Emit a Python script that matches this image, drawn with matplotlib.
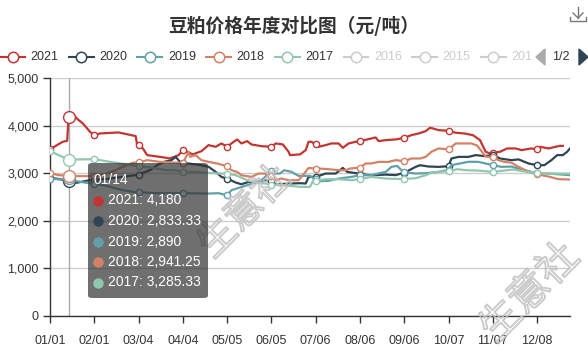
import matplotlib
matplotlib.use("Agg")
import matplotlib.pyplot as plt
from matplotlib.lines import Line2D
from matplotlib.patches import FancyBboxPatch, Polygon
import matplotlib.patheffects as pe
from matplotlib import font_manager
import pandas as pd

# ---------------- data ----------------
categories = list(pd.date_range("2021-01-01", "2021-12-31").strftime("%m/%d"))
label_step = 31
hover_date = "01/14"
title = "豆粕价格年度对比图（元/吨）"
series_names = ["2021", "2020", "2019", "2018", "2017"]
inactive_names = ["2016", "2015", "201"]
y_ticks = [0, 1000, 2000, 3000, 4000, 5000]

s2021 = [("01/01", 3500), ("01/07", 3610), ("01/10", 3660), ("01/13", 3680), ("01/14", 4180),
         ("01/17", 4235), ("01/21", 4116), ("01/24", 4046), ("01/27", 3940), ("01/29", 3870),
         ("02/01", 3800), ("02/05", 3835), ("02/18", 3856), ("03/02", 3780), ("03/03", 3590),
         ("03/04", 3590), ("03/07", 3520), ("03/10", 3380), ("03/19", 3343), ("03/26", 3310),
         ("04/01", 3380), ("04/04", 3485), ("04/07", 3450), ("04/11", 3395), ("04/17", 3463),
         ("04/22", 3590), ("04/27", 3555), ("05/01", 3625), ("05/05", 3555), ("05/08", 3625),
         ("05/12", 3709), ("05/15", 3625), ("05/19", 3674), ("05/22", 3604), ("05/29", 3568),
         ("06/05", 3555), ("06/08", 3625), ("06/13", 3604), ("06/17", 3450), ("06/18", 3380),
         ("06/25", 3395), ("06/29", 3485), ("07/01", 3660), ("07/03", 3660), ("07/06", 3604),
         ("07/08", 3555), ("07/13", 3590), ("07/17", 3625), ("07/22", 3625), ("07/25", 3533),
         ("07/29", 3625), ("08/03", 3660), ("08/06", 3674), ("08/11", 3709), ("08/17", 3751),
         ("08/19", 3674), ("08/24", 3695), ("08/31", 3709), ("09/06", 3744), ("09/11", 3800),
         ("09/16", 3835), ("09/21", 3884), ("09/24", 3954), ("09/26", 3940), ("09/30", 3905),
         ("10/07", 3890), ("10/12", 3850), ("10/18", 3835), ("10/24", 3800), ("10/29", 3695),
         ("11/02", 3450), ("11/05", 3415), ("11/07", 3430), ("11/12", 3450), ("11/17", 3520),
         ("11/23", 3520), ("11/27", 3485), ("12/04", 3520), ("12/08", 3500), ("12/10", 3555),
         ("12/16", 3520), ("12/21", 3555), ("12/24", 3575), ("12/26", 3575)]

s2020 = [("01/01", 2902), ("01/07", 2880), ("01/14", 2833.33), ("01/20", 2800), ("01/28", 2850),
         ("02/01", 2860), ("02/10", 2880), ("02/20", 2920), ("03/02", 2960), ("03/04", 2972),
         ("03/12", 3063), ("03/17", 3168), ("03/22", 3240), ("03/27", 3274), ("03/30", 3343),
         ("04/02", 3238), ("04/04", 3204), ("04/08", 3204), ("04/13", 3183), ("04/17", 3168),
         ("04/22", 3133), ("04/27", 3028), ("05/01", 2922), ("05/05", 2888), ("05/11", 2804),
         ("05/15", 2768), ("05/20", 2817), ("05/27", 2817), ("05/31", 2853), ("06/05", 2832),
         ("06/08", 2762), ("06/17", 2783), ("06/25", 2790), ("06/29", 2783), ("07/01", 2922),
         ("07/06", 2922), ("07/13", 2993), ("07/20", 2993), ("07/25", 3112), ("07/28", 3028),
         ("08/05", 2993), ("08/06", 2980), ("08/14", 2958), ("08/24", 2970), ("08/31", 2960),
         ("09/06", 3010), ("09/14", 3133), ("09/17", 3168), ("09/23", 3140), ("09/30", 3133),
         ("10/07", 3147), ("10/09", 3309), ("10/14", 3343), ("10/21", 3343), ("10/26", 3380),
         ("11/01", 3360), ("11/07", 3380), ("11/12", 3309), ("11/20", 3274), ("11/25", 3290),
         ("12/02", 3204), ("12/08", 3168), ("12/13", 3168), ("12/18", 3274), ("12/22", 3380),
         ("12/26", 3380), ("12/29", 3450), ("12/31", 3520)]

s2019 = [("01/01", 2888), ("01/07", 2870), ("01/14", 2890), ("01/20", 2830), ("01/28", 2790),
         ("02/01", 2780), ("02/10", 2730), ("02/20", 2650), ("03/02", 2600), ("03/04", 2600),
         ("03/17", 2580), ("04/04", 2580), ("04/22", 2572), ("04/29", 2580), ("05/05", 2537),
         ("05/08", 2642), ("05/13", 2691), ("05/19", 2747), ("05/25", 2804), ("05/29", 2853),
         ("06/02", 2958), ("06/05", 3042), ("06/08", 2993), ("06/11", 2993), ("06/14", 3063),
         ("06/19", 3028), ("06/24", 2944), ("07/02", 2944), ("07/04", 2902), ("07/06", 2870),
         ("07/08", 2832), ("07/15", 2840), ("07/22", 2888), ("07/31", 2922), ("08/06", 2958),
         ("08/14", 2960), ("08/24", 3028), ("08/28", 3133), ("09/01", 3154), ("09/04", 3063),
         ("09/06", 3020), ("09/14", 2993), ("09/21", 3000), ("09/30", 3028), ("10/07", 3070),
         ("10/09", 3168), ("10/21", 3240), ("10/28", 3238), ("11/07", 3168), ("11/13", 3133),
         ("11/20", 3140), ("11/27", 3077), ("12/04", 3028), ("12/08", 3000), ("12/16", 2993),
         ("12/31", 2958)]

s2018 = [("01/01", 3000), ("01/07", 2960), ("01/14", 2941.25), ("01/28", 2937), ("02/01", 2950),
         ("02/08", 2975), ("02/15", 3050), ("02/22", 3150), ("02/28", 3220), ("03/04", 3225),
         ("03/10", 3274), ("03/19", 3238), ("04/02", 3217), ("04/04", 3210), ("04/08", 3450),
         ("04/09", 3343), ("04/13", 3380), ("04/17", 3274), ("04/22", 3238), ("04/28", 3204),
         ("05/05", 3147), ("05/08", 3063), ("05/12", 3028), ("05/15", 2958), ("05/22", 2922),
         ("05/27", 2993), ("05/31", 2993), ("06/05", 2937), ("06/08", 2853), ("06/12", 2888),
         ("06/17", 2853), ("06/24", 2853), ("06/27", 2958), ("07/01", 3110), ("07/06", 3098),
         ("07/13", 3090), ("07/22", 3063), ("07/27", 3063), ("07/30", 3098), ("08/06", 3119),
         ("08/10", 3204), ("08/14", 3204), ("08/19", 3238), ("08/26", 3238), ("08/31", 3274),
         ("09/06", 3253), ("09/11", 3309), ("09/17", 3309), ("09/21", 3343), ("09/25", 3450),
         ("09/30", 3520), ("10/07", 3500), ("10/12", 3625), ("10/23", 3625), ("10/27", 3580),
         ("11/02", 3350), ("11/07", 3330), ("11/11", 3274), ("11/15", 3238), ("11/20", 3220),
         ("11/25", 3133), ("12/02", 3028), ("12/08", 2979), ("12/17", 2922), ("12/23", 2874),
         ("12/31", 2867)]

s2017 = [("01/01", 3470), ("01/07", 3380), ("01/14", 3285.33), ("02/01", 3295), ("02/12", 3238),
         ("02/28", 3168), ("03/04", 3150), ("03/12", 3119), ("03/24", 3063), ("03/30", 3063),
         ("04/04", 3028), ("04/13", 3028), ("04/20", 3010), ("04/29", 2993), ("05/05", 2993),
         ("05/11", 2958), ("05/19", 2853), ("05/25", 2804), ("06/01", 2783), ("06/05", 2762),
         ("06/12", 2750), ("06/18", 2733), ("06/26", 2712), ("07/02", 2712), ("07/04", 2832),
         ("07/06", 2845), ("07/08", 2853), ("07/13", 2874), ("07/22", 2874), ("07/31", 2853),
         ("08/06", 2874), ("08/14", 2922), ("08/24", 2888), ("08/31", 2880), ("09/06", 2880),
         ("09/14", 2895), ("09/21", 2958), ("09/25", 3007), ("09/30", 3028), ("10/07", 3042),
         ("10/13", 3084), ("10/19", 3063), ("10/28", 3055), ("11/07", 3028), ("11/21", 3077),
         ("12/01", 3028), ("12/08", 3007), ("12/18", 2993), ("12/31", 2990)]

series_data = [s2021, s2020, s2019, s2018, s2017]

# ---------------- style ----------------
colors = ["#c23531", "#2f4554", "#61a0a8", "#d48265", "#91c7ae"]
inactive_color = "#cccccc"
text_color = "#333333"

names = {f.name for f in font_manager.fontManager.ttflist}
base_font = "Liberation Sans" if "Liberation Sans" in names else "DejaVu Sans"
plt.rcParams["font.family"] = [base_font, "Noto Sans CJK SC", "DejaVu Sans"]

W, H = 588, 357
fig = plt.figure(figsize=(W / 100, H / 100), dpi=100)
fig.patch.set_facecolor("white")


def fx(x):
    return x / W


def fy(y):
    return 1 - y / H


L, R, T, B = 50, 570, 78, 316
ax = fig.add_axes([fx(L), fy(B), (R - L) / W, (B - T) / H])
idx = {d: i for i, d in enumerate(categories)}

ax.set_xlim(0, len(categories) - 1)
ax.set_ylim(y_ticks[0], y_ticks[-1])
ax.set_yticks(y_ticks)
ax.set_yticklabels([f"{v:,}" for v in y_ticks])
xt = list(range(0, len(categories), label_step))
ax.set_xticks(xt)
ax.set_xticklabels([categories[i] for i in xt])
for s in ["top", "right"]:
    ax.spines[s].set_visible(False)
for s in ["left", "bottom"]:
    ax.spines[s].set_color(text_color)
    ax.spines[s].set_linewidth(1)
ax.tick_params(axis="y", length=5, width=1, color=text_color, labelcolor=text_color,
               labelsize=9, pad=3)
ax.tick_params(axis="x", length=5, width=1, color=text_color, labelcolor=text_color,
               labelsize=9, pad=9)
ax.yaxis.grid(True, color="#cccccc", linewidth=1)
ax.set_axisbelow(True)

label_dates = set(categories[i] for i in xt)
hi = idx[hover_date]
ax.axvline(hi, color="#aaaaaa", linewidth=1, zorder=1)

hover_vals = []
for k, (name, data, c) in enumerate(zip(series_names, series_data, colors)):
    xs = [idx[d] for d, v in data]
    ys = [v for d, v in data]
    ax.plot(xs, ys, color=c, linewidth=1.6, zorder=3 + k, solid_joinstyle="round")
    mx = [idx[d] for d, v in data if d in label_dates]
    my = [v for d, v in data if d in label_dates]
    ax.plot(mx, my, linestyle="none", marker="o", markersize=4.5, markerfacecolor="white",
            markeredgecolor=c, markeredgewidth=1, zorder=3 + k)
    hv = dict(data)[hover_date]
    hover_vals.append(hv)
    ax.plot([hi], [hv], marker="o", markersize=8.5, markerfacecolor="white",
            markeredgecolor=c, markeredgewidth=1, zorder=3 + k)

# ---------------- watermark ----------------
for (cx, cy, fs) in [(245, 212, 27), (530, 293, 29)]:
    fig.text(fx(cx), fy(cy), "生意社", fontsize=fs, rotation=45, ha="center", va="center",
             family=["Noto Sans CJK SC"], color=(1, 1, 1, 0), zorder=20,
             path_effects=[pe.Stroke(linewidth=1.4, foreground=(0.76, 0.76, 0.76, 0.85))])

# ---------------- title ----------------
fig.text(0.5, fy(26), title, ha="center", va="center", fontsize=13.5, fontweight="bold",
         color=text_color, family=["Noto Sans CJK SC", "DejaVu Sans"])

# download icon
icon = dict(color="#777777", linewidth=1, transform=fig.transFigure)
fig.add_artist(Line2D([fx(578), fx(578)], [fy(7), fy(18)], **icon))
fig.add_artist(Line2D([fx(573), fx(578), fx(583)], [fy(13), fy(18), fy(13)], **icon))
fig.add_artist(Line2D([fx(570), fx(570), fx(586), fx(586)], [fy(17), fy(21), fy(21), fy(17)], **icon))

# ---------------- legend ----------------
leg_y = 57
leg_x0 = 12.5
leg_step = 68.7
all_names = series_names + inactive_names
all_cols = colors + [inactive_color] * len(inactive_names)
for i, (n, c) in enumerate(zip(all_names, all_cols)):
    cx = leg_x0 + i * leg_step
    fig.add_artist(Line2D([fx(cx - 12.5), fx(cx + 12.5)], [fy(leg_y), fy(leg_y)], color=c,
                          linewidth=1.5, transform=fig.transFigure))
    fig.add_artist(Line2D([fx(cx)], [fy(leg_y)], marker="o", markersize=7.5, markerfacecolor="white",
                          markeredgecolor=c, markeredgewidth=1.1, transform=fig.transFigure))
    fig.text(fx(cx + 18), fy(leg_y), n, ha="left", va="center", fontsize=9,
             color=text_color if c != inactive_color else inactive_color)
fig.add_artist(Polygon([[fx(536), fy(leg_y)], [fx(545), fy(leg_y - 8)], [fx(545), fy(leg_y + 8)]],
                       closed=True, color="#aaaaaa", transform=fig.transFigure))
fig.text(fx(561), fy(leg_y), "1/2", ha="center", va="center", fontsize=9, color=text_color)
fig.add_artist(Polygon([[fx(588), fy(leg_y)], [fx(579), fy(leg_y - 8)], [fx(579), fy(leg_y + 8)]],
                       closed=True, color="#2f4554", transform=fig.transFigure))

# ---------------- tooltip ----------------
tx0, ty0, tx1, ty1 = 88, 163, 208, 298
box = FancyBboxPatch((fx(tx0), fy(ty1)), (tx1 - tx0) / W, (ty1 - ty0) / H,
                     boxstyle="round,pad=0,rounding_size=0.007", transform=fig.transFigure,
                     facecolor=(50 / 255, 50 / 255, 50 / 255, 0.7), edgecolor="none", zorder=30)
fig.add_artist(box)
fig.text(fx(93), fy(180), hover_date, ha="left", va="center", fontsize=10, color="white", zorder=31)


def fmt(v):
    s = f"{v:,.2f}"
    return s.rstrip("0").rstrip(".")


for k, (n, c, v) in enumerate(zip(series_names, colors, hover_vals)):
    yy = 200.5 + k * 20.5
    fig.add_artist(Line2D([fx(98)], [fy(yy)], marker="o", markersize=7.5, color=c,
                          markeredgewidth=0, transform=fig.transFigure, zorder=31))
    fig.text(fx(108), fy(yy), f"{n}: {fmt(v)}", ha="left", va="center", fontsize=10,
             color="white", zorder=31)

fig.savefig("out.png", dpi=100)
